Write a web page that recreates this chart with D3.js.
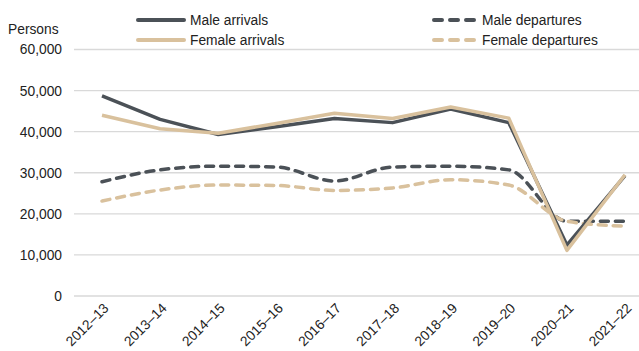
<!DOCTYPE html>
<html>
<head>
<meta charset="utf-8">
<script src="https://cdn.jsdelivr.net/npm/d3@7"></script>
<style>
  body { margin: 0; background: #fff; }
  text { font-family: "Liberation Sans", Arial, sans-serif; fill: #222; }
</style>
</head>
<body>
<div id="chart"></div>
<script>
const years = ['2012–13', '2013–14', '2014–15', '2015–16', '2016–17',
    '2017–18', '2018–19', '2019–20', '2020–21', '2021–22'];

const maleArrivals = [48700, 43000, 39300, 41200, 43200, 42200, 45500, 42200, 12400, 29300];
const femaleArrivals = [44000, 40700, 39600, 42000, 44500, 43200, 46000, 43300, 11100, 29500];
const maleDepartures = [27800, 30700, 31600, 31400, 28000, 31400, 31600, 30700, 18200, 18200];
const femaleDepartures = [23100, 25800, 27000, 26900, 25700, 26300, 28300, 27000, 18200, 17000];

const yTicks = [0, 10000, 20000, 30000, 40000, 50000, 60000];

const chartWidth = 639;
const chartHeight = 351;
const fontSize = '13.8px';

const dark = '#4b5157';
const tan = '#d9c19d';

const series = [
    { name: 'Male arrivals', values: maleArrivals, color: dark, dashed: false },
    { name: 'Female arrivals', values: femaleArrivals, color: tan, dashed: false },
    { name: 'Male departures', values: maleDepartures, color: dark, dashed: true },
    { name: 'Female departures', values: femaleDepartures, color: tan, dashed: true }
];

const xScale = d3.scalePoint()
    .domain(years)
    .range([102, 625]);

const yScale = d3.scaleLinear()
    .domain([0, 60000])
    .range([296, 49.5]);

const svg = d3.select('#chart')
    .append('svg')
    .attr('width', chartWidth)
    .attr('height', chartHeight);

// gridlines
svg.append('g')
    .selectAll('line')
    .data(yTicks)
    .enter()
    .append('line')
    .attr('x1', 74)
    .attr('x2', chartWidth)
    .attr('y1', d => yScale(d))
    .attr('y2', d => yScale(d))
    .attr('stroke', '#d9d9d9')
    .attr('stroke-width', 1.3);

const yAxis = d3.axisLeft(yScale)
    .tickValues(yTicks)
    .tickSize(0)
    .tickPadding(0)
    .tickFormat(d3.format(','));

svg.append('g')
    .attr('class', 'y-axis')
    .attr('transform', 'translate(62,0)')
    .call(yAxis)
    .call(g => g.select('.domain').remove())
    .selectAll('text')
    .style('font-size', fontSize)
    .attr('fill', '#222');

svg.append('text')
    .attr('x', 8)
    .attr('y', 34)
    .style('font-size', fontSize)
    .text('Persons');

const xAxis = d3.axisBottom(xScale)
    .tickSize(0)
    .tickPadding(0);

svg.append('g')
    .attr('class', 'x-axis')
    .attr('transform', 'translate(0,296)')
    .call(xAxis)
    .call(g => g.select('.domain').remove())
    .selectAll('text')
    .style('font-size', fontSize)
    .attr('fill', '#222')
    .attr('text-anchor', 'end')
    .attr('dy', 0)
    .attr('transform', 'translate(7,13) rotate(-45)');

const straight = d3.line()
    .x((d, i) => xScale(years[i]))
    .y(d => yScale(d));

const smooth = d3.line()
    .x((d, i) => xScale(years[i]))
    .y(d => yScale(d))
    .curve(d3.curveMonotoneX);

// departures first, arrivals on top
const drawOrder = [series[2], series[3], series[0], series[1]];

svg.append('g')
    .selectAll('path')
    .data(drawOrder)
    .enter()
    .append('path')
    .attr('d', d => (d.dashed ? smooth : straight)(d.values))
    .attr('fill', 'none')
    .attr('stroke', d => d.color)
    .attr('stroke-width', 3.5)
    .attr('stroke-linecap', d => d.dashed ? 'round' : 'butt')
    .attr('stroke-linejoin', 'round')
    .attr('stroke-dasharray', d => d.dashed ? '8,7' : null);

// legend
const legendPos = [
    { x: 138, y: 20 },
    { x: 138, y: 40 },
    { x: 432, y: 20 },
    { x: 432, y: 40 }
];

const legend = svg.append('g')
    .selectAll('g')
    .data(series)
    .enter()
    .append('g')
    .attr('transform', (d, i) => 'translate(' + legendPos[i].x + ',' + legendPos[i].y + ')');

legend.append('line')
    .attr('x1', d => d.dashed ? 2 : 0)
    .attr('x2', d => d.dashed ? 42 : 46)
    .attr('stroke', d => d.color)
    .attr('stroke-width', 4)
    .attr('stroke-linecap', 'round')
    .attr('stroke-dasharray', d => d.dashed ? '8,8' : null);

legend.append('text')
    .attr('x', d => d.dashed ? 50 : 52)
    .attr('dy', '0.35em')
    .style('font-size', fontSize)
    .text(d => d.name);
</script>
</body>
</html>
